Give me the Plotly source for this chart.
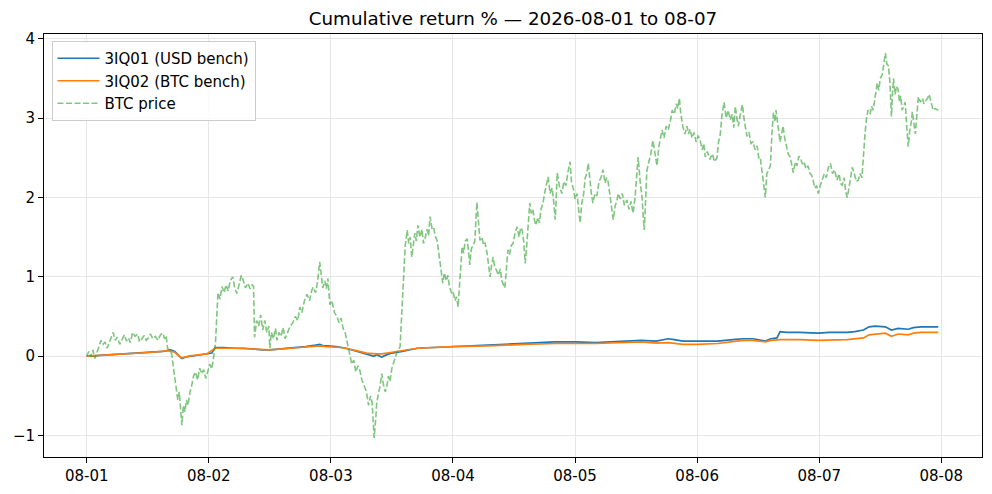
import pandas as pd
import plotly.graph_objects as go

# (hours since 2026-08-01 00:00, cumulative return %)
btc_path = [
    (0, 0.0), (0.4, 0.06), (0.8, -0.01), (1.2, 0.08), (1.6, -0.03), (2.0, 0.04), (2.4, 0.12),
    (2.8, 0.2), (3.2, 0.15), (3.6, 0.18), (4.0, 0.1), (4.4, 0.16), (4.8, 0.24), (5.2, 0.3),
    (5.6, 0.2), (6.0, 0.24), (6.5, 0.15), (7.0, 0.22), (7.4, 0.27), (7.8, 0.19), (8.2, 0.23),
    (8.6, 0.17), (9.0, 0.3), (9.5, 0.25), (10.0, 0.28), (10.4, 0.18), (10.8, 0.22), (11.3, 0.26),
    (11.7, 0.2), (12.1, 0.23), (12.5, 0.28), (13.0, 0.22), (13.5, 0.25), (14.0, 0.2), (14.5, 0.27),
    (15.0, 0.29), (15.3, 0.22), (15.6, 0.26), (15.9, 0.1), (16.3, 0.06), (16.7, 0.03), (17.0, -0.12),
    (17.3, -0.25), (17.6, -0.38), (17.9, -0.55), (18.2, -0.45), (18.5, -0.75), (18.7, -0.87),
    (19.0, -0.62), (19.3, -0.7), (19.6, -0.55), (19.9, -0.62), (20.3, -0.45), (20.6, -0.38),
    (21.0, -0.25), (21.4, -0.2), (21.8, -0.3), (22.2, -0.15), (22.6, -0.22), (23.0, -0.17),
    (23.4, -0.28), (23.8, -0.2), (24.2, -0.1), (24.6, -0.16), (25.0, 0.05), (25.3, 0.15),
    (25.6, 0.55), (25.8, 0.8), (26.2, 0.72), (26.6, 0.88), (27.0, 0.8), (27.4, 0.9), (27.8, 0.82),
    (28.2, 0.95), (28.7, 1.0), (29.1, 0.86), (29.5, 0.79), (30.0, 0.9), (30.4, 1.02), (30.8, 0.95),
    (31.2, 0.86), (31.7, 0.92), (32.1, 0.85), (32.5, 0.9), (32.8, 0.88), (33.0, 0.24), (33.4, 0.45),
    (33.8, 0.38), (34.2, 0.52), (34.6, 0.33), (35.0, 0.45), (35.4, 0.3), (35.8, 0.38), (36.0, 0.1),
    (36.3, 0.3), (36.7, 0.22), (37.1, 0.35), (37.4, 0.2), (37.8, 0.3), (38.2, 0.25), (38.6, 0.36),
    (39.0, 0.22), (39.5, 0.3), (40.0, 0.38), (40.5, 0.42), (41.0, 0.5), (41.5, 0.45), (41.9, 0.62),
    (42.3, 0.55), (42.8, 0.7), (43.3, 0.78), (43.8, 0.7), (44.2, 0.82), (44.5, 0.87), (45.0, 0.8),
    (45.4, 0.95), (45.8, 1.19), (46.1, 1.05), (46.4, 0.86), (46.8, 0.95), (47.1, 0.85), (47.4, 0.98),
    (47.8, 0.65), (48.2, 0.7), (48.7, 0.55), (49.2, 0.5), (49.6, 0.42), (50.0, 0.48), (50.4, 0.35),
    (50.8, 0.3), (51.2, 0.18), (51.7, 0.0), (52.1, -0.1), (52.5, -0.05), (52.9, -0.2), (53.3, -0.12),
    (53.7, -0.18), (54.1, -0.3), (54.5, -0.38), (55.0, -0.45), (55.4, -0.62), (55.8, -0.5),
    (56.1, -0.58), (56.3, -0.8), (56.5, -1.03), (56.8, -0.8), (57.0, -0.6), (57.3, -0.48),
    (57.6, -0.4), (58.0, -0.22), (58.3, -0.35), (58.7, -0.45), (59.0, -0.38), (59.3, -0.25),
    (59.6, -0.32), (60.0, -0.15), (60.5, -0.05), (61.0, 0.05), (61.6, 0.12), (62.0, 0.62),
    (62.3, 1.1), (62.6, 1.38), (63.0, 1.59), (63.3, 1.42), (63.6, 1.5), (63.9, 1.25), (64.2, 1.4),
    (64.5, 1.55), (64.8, 1.45), (65.1, 1.65), (65.5, 1.5), (65.9, 1.6), (66.2, 1.42), (66.5, 1.48),
    (66.9, 1.6), (67.2, 1.52), (67.5, 1.76), (67.9, 1.6), (68.2, 1.62), (68.5, 1.52), (68.9, 1.45),
    (69.2, 1.3), (69.4, 1.2), (69.7, 1.02), (70.0, 0.92), (70.3, 1.05), (70.7, 0.95), (71.0, 1.02),
    (71.3, 0.88), (71.7, 0.8), (72.0, 0.82), (72.4, 0.7), (72.7, 0.75), (73.0, 0.62), (73.3, 0.9),
    (73.6, 1.2), (73.8, 1.38), (74.1, 1.3), (74.4, 1.45), (74.8, 1.48), (75.0, 1.3), (75.3, 1.15),
    (75.6, 1.35), (76.0, 1.4), (76.3, 1.45), (76.5, 1.7), (76.7, 1.94), (77.0, 1.7), (77.3, 1.46),
    (77.7, 1.5), (78.0, 1.4), (78.3, 1.43), (78.7, 1.3), (79.0, 1.15), (79.3, 1.0), (79.6, 1.15),
    (79.9, 1.25), (80.2, 1.12), (80.6, 1.08), (80.9, 1.02), (81.3, 1.1), (81.6, 0.95), (82.0, 0.9),
    (82.2, 0.86), (82.5, 1.1), (82.8, 1.34), (83.1, 1.28), (83.5, 1.4), (83.8, 1.42), (84.2, 1.55),
    (84.6, 1.63), (85.0, 1.5), (85.3, 1.62), (85.6, 1.59), (85.9, 1.45), (86.2, 1.17), (86.5, 1.4),
    (86.8, 1.75), (87.1, 1.93), (87.4, 1.8), (87.7, 1.85), (88.0, 1.72), (88.3, 1.65), (88.7, 1.75),
    (89.0, 1.68), (89.3, 1.85), (89.7, 1.93), (90.0, 2.05), (90.4, 2.2), (90.7, 2.26), (91.1, 2.05),
    (91.5, 2.12), (91.8, 1.95), (92.1, 1.72), (92.3, 2.0), (92.5, 2.31), (92.9, 2.15), (93.4, 2.05),
    (93.8, 2.2), (94.2, 2.15), (94.6, 2.32), (95.0, 2.45), (95.3, 2.2), (95.7, 2.1), (96.0, 1.98),
    (96.4, 2.05), (96.7, 1.85), (97.0, 1.68), (97.3, 1.92), (97.7, 2.05), (98.0, 2.25), (98.3, 2.3),
    (98.6, 2.43), (98.9, 2.2), (99.2, 2.05), (99.5, 1.93), (99.9, 2.05), (100.3, 2.02), (100.7, 2.2),
    (101.1, 2.25), (101.5, 2.35), (101.9, 2.18), (102.2, 2.25), (102.5, 2.2), (102.9, 2.0),
    (103.2, 1.85), (103.5, 1.72), (103.9, 1.9), (104.2, 1.95), (104.5, 2.05), (104.9, 1.98),
    (105.3, 2.05), (105.7, 1.9), (106.2, 1.97), (106.6, 1.85), (107.0, 1.95), (107.4, 1.8),
    (107.8, 2.0), (108.1, 2.3), (108.4, 2.51), (108.8, 2.2), (109.2, 1.99), (109.4, 1.75),
    (109.6, 1.59), (109.9, 2.0), (110.1, 2.33), (110.5, 2.45), (110.9, 2.55), (111.3, 2.72),
    (111.7, 2.55), (112.1, 2.4), (112.5, 2.65), (112.8, 2.75), (113.1, 2.85), (113.5, 2.75),
    (113.9, 2.9), (114.3, 2.85), (114.7, 2.95), (115.1, 3.1), (115.5, 3.05), (115.9, 3.18),
    (116.2, 3.12), (116.5, 3.25), (116.8, 3.05), (117.2, 2.89), (117.6, 2.8), (118.0, 2.9),
    (118.3, 2.8), (118.6, 2.86), (119.0, 2.75), (119.4, 2.82), (119.8, 2.7), (120.2, 2.78),
    (120.6, 2.72), (121.0, 2.6), (121.3, 2.68), (121.6, 2.51), (122.0, 2.58), (122.5, 2.48),
    (123.0, 2.55), (123.4, 2.45), (123.9, 2.5), (124.2, 2.7), (124.5, 2.77), (124.9, 3.05),
    (125.3, 3.2), (125.7, 3.0), (126.1, 3.1), (126.5, 2.98), (126.9, 3.05), (127.2, 2.88),
    (127.5, 3.15), (127.8, 3.0), (128.1, 2.9), (128.5, 3.05), (128.9, 3.17), (129.2, 3.0),
    (129.5, 2.85), (129.8, 2.77), (130.2, 2.82), (130.6, 2.68), (131.0, 2.7), (131.4, 2.6),
    (131.8, 2.65), (132.1, 2.5), (132.4, 2.51), (132.7, 2.35), (133.0, 2.2), (133.2, 2.05),
    (133.4, 2.0), (133.7, 2.3), (134.0, 2.35), (134.4, 2.4), (134.7, 2.8), (135.0, 3.07),
    (135.3, 2.95), (135.5, 3.1), (135.7, 3.0), (136.0, 2.85), (136.3, 2.7), (136.6, 2.8),
    (136.9, 2.9), (137.2, 2.75), (137.6, 2.65), (137.9, 2.55), (138.3, 2.51), (138.6, 2.38),
    (138.9, 2.31), (139.3, 2.45), (139.6, 2.4), (140.0, 2.52), (140.3, 2.5), (140.7, 2.42),
    (141.0, 2.45), (141.4, 2.36), (141.8, 2.4), (142.2, 2.3), (142.5, 2.28), (142.8, 2.22),
    (143.1, 2.12), (143.5, 2.15), (143.8, 2.05), (144.2, 2.15), (144.6, 2.22), (145.0, 2.3),
    (145.4, 2.25), (145.8, 2.38), (146.2, 2.43), (146.6, 2.3), (147.0, 2.35), (147.5, 2.22),
    (147.9, 2.3), (148.2, 2.18), (148.5, 2.15), (148.9, 2.25), (149.2, 2.08), (149.5, 2.0),
    (149.8, 2.1), (150.2, 2.28), (150.5, 2.38), (150.9, 2.3), (151.3, 2.2), (151.7, 2.22),
    (152.0, 2.3), (152.4, 2.25), (152.7, 2.6), (153.0, 2.8), (153.3, 3.0), (153.6, 3.1),
    (154.0, 3.05), (154.3, 3.15), (154.6, 3.1), (155.0, 3.3), (155.4, 3.44), (155.7, 3.35),
    (156.0, 3.5), (156.4, 3.55), (156.7, 3.7), (157.0, 3.82), (157.3, 3.68), (157.6, 3.66),
    (157.9, 3.45), (158.1, 3.1), (158.2, 3.02), (158.4, 3.3), (158.6, 3.5), (158.9, 3.3),
    (159.2, 3.4), (159.5, 3.36), (159.8, 3.2), (160.0, 3.28), (160.3, 3.1), (160.6, 3.15),
    (160.9, 3.2), (161.2, 2.9), (161.5, 2.64), (161.8, 2.85), (162.1, 2.95), (162.3, 3.08),
    (162.6, 2.9), (162.9, 2.8), (163.2, 3.05), (163.5, 3.27), (163.9, 3.2), (164.3, 3.25),
    (164.6, 3.18), (164.9, 3.22), (165.3, 3.25), (165.6, 3.3), (166.0, 3.2), (166.4, 3.1),
    (166.8, 3.12), (167.4, 3.1),
]

usd_bench = [
    (0, 0.0), (1, 0.0), (2.6, 0.01), (5, 0.02), (7, 0.02), (9, 0.03), (11, 0.04), (13, 0.05),
    (15, 0.06), (16.5, 0.08), (17.3, 0.06), (18.2, 0.0), (18.7, -0.03), (19.5, -0.01), (20.5, 0.0),
    (22, 0.02), (23.6, 0.03), (24.6, 0.04), (25.2, 0.11), (27, 0.11), (29, 0.1), (31, 0.1),
    (33, 0.09), (34.5, 0.08), (36, 0.08), (38, 0.09), (40.5, 0.1), (43, 0.12), (45, 0.14),
    (45.8, 0.15), (46.5, 0.13), (47.4, 0.13), (49, 0.12), (51, 0.1), (53.7, 0.05), (55, 0.03),
    (56.5, 0.0), (57, 0.02), (58, -0.01), (59, 0.02), (60, 0.04), (62, 0.06), (65, 0.1), (68, 0.11),
    (72, 0.12), (75, 0.13), (79, 0.14), (82, 0.15), (86, 0.16), (89, 0.17), (92, 0.18), (96, 0.18),
    (100, 0.17), (103, 0.18), (106, 0.19), (109, 0.2), (112, 0.19), (114.3, 0.22), (115.5, 0.21),
    (117.2, 0.19), (120, 0.19), (124, 0.19), (127, 0.21), (129, 0.22), (131, 0.22), (133, 0.2),
    (133.4, 0.19), (134.5, 0.22), (135.7, 0.23), (136.3, 0.31), (137.5, 0.3), (140, 0.3),
    (143.8, 0.29), (146, 0.3), (149.5, 0.3), (151, 0.31), (152.7, 0.33), (153.8, 0.37),
    (155, 0.38), (157, 0.37), (158.2, 0.33), (159.5, 0.35), (161.5, 0.34), (162.5, 0.36),
    (164, 0.37), (167.4, 0.37),
]

btc_bench = [
    (0, 0.0), (2.6, 0.01), (5, 0.02), (9, 0.03), (13, 0.05), (16, 0.07), (17.3, 0.05), (18.2, 0.0),
    (18.7, -0.02), (20, 0.0), (22, 0.02), (23.6, 0.03), (25.2, 0.1), (29, 0.1), (33, 0.09),
    (36, 0.08), (40, 0.1), (43, 0.12), (45.8, 0.13), (47, 0.12), (50, 0.11), (53, 0.07), (55, 0.04),
    (57, 0.03), (58, 0.03), (60, 0.05), (62, 0.07), (65, 0.1), (72, 0.12), (79, 0.13), (86, 0.15),
    (92, 0.16), (100, 0.16), (105, 0.17), (109, 0.18), (112, 0.165), (114.3, 0.17), (117.2, 0.15),
    (120, 0.15), (124, 0.16), (129, 0.2), (131, 0.2), (133.4, 0.18), (134.5, 0.2), (136.5, 0.21),
    (140, 0.21), (143.8, 0.2), (149.5, 0.21), (152.7, 0.23), (153.8, 0.27), (155, 0.28),
    (157, 0.29), (158.2, 0.25), (159.5, 0.28), (161.5, 0.27), (162.5, 0.29), (164, 0.3),
    (167.4, 0.3),
]

start = pd.Timestamp("2026-08-01")


def split(path):
    hours, vals = zip(*path)
    return start + pd.to_timedelta(list(hours), unit="h"), list(vals)


fig = go.Figure()
x, y = split(usd_bench)
fig.add_trace(go.Scatter(x=x, y=y, mode="lines", name="3IQ01 (USD bench)",
                         line=dict(color="#1f77b4", width=1.7)))
x, y = split(btc_bench)
fig.add_trace(go.Scatter(x=x, y=y, mode="lines", name="3IQ02 (BTC bench)",
                         line=dict(color="#ff7f0e", width=1.7)))
x, y = split(btc_path)
fig.add_trace(go.Scatter(x=x, y=y, mode="lines", name="BTC price",
                         line=dict(color="#2ca02c", width=1.6, dash="6px,2.5px"), opacity=0.6))

# page body adds 8px on each side, so the figure is sized to fit inside it
fig.update_layout(
    width=976, height=478,
    margin=dict(l=36, r=2, t=26, b=29),
    paper_bgcolor="white", plot_bgcolor="white",
    font=dict(family="DejaVu Sans", size=15, color="black"),
    title=dict(text="Cumulative return % — 2026-08-01 to 08-07", xref="paper", x=0.5,
               xanchor="center", y=0.977, yanchor="middle", font=dict(size=18.3)),
    legend=dict(x=0.008, y=0.9835, xanchor="left", yanchor="top", bgcolor="rgba(255,255,255,0.8)",
                bordercolor="#cccccc", borderwidth=1, font=dict(size=15), tracegroupgap=0,
                itemwidth=42),
    showlegend=True,
)
fig.update_xaxes(
    type="date",
    range=[start - pd.Timedelta(hours=8.4), start + pd.Timedelta(hours=176)],
    tickformat="%m-%d", dtick=86400000, tick0="2026-08-01",
    showline=True, linecolor="black", linewidth=1, mirror=True,
    ticks="outside", ticklen=5, tickcolor="black",
    showgrid=True, gridcolor="#e6e6e6", zeroline=False,
)
fig.update_yaxes(
    range=[-1.27, 4.06], dtick=1, tick0=0,
    showline=True, linecolor="black", linewidth=1, mirror=True,
    ticks="outside", ticklen=5, tickcolor="black",
    showgrid=True, gridcolor="#e6e6e6", zeroline=False,
)

fig.write_html("out.html")
